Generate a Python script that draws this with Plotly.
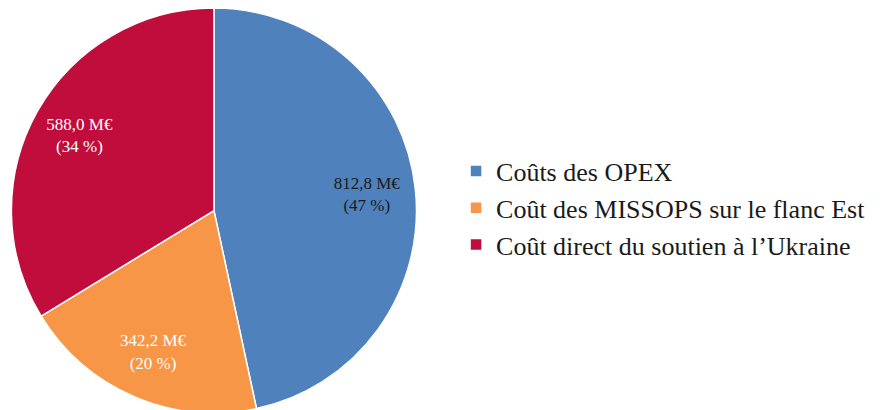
import plotly.graph_objects as go

labels = ["Coûts des OPEX", "Coût des MISSOPS sur le flanc Est", "Coût direct du soutien à l’Ukraine"]
values = [812.8, 342.2, 588.0]
colors = ["#4F81BD", "#F79646", "#C00D3C"]
text_colors = ["#1a1a1a", "white", "white"]

total = sum(values)
texts = [f"{v:.1f}".replace(".", ",") + " M€<br>(" + f"{round(100 * v / total)} %)" for v in values]

serif = "Liberation Serif, DejaVu Serif, serif"
dom = dict(x=[0.003, 0.464], y=[0.012, 1.0])

# filled pie (no text)
fig = go.Figure(go.Pie(
    labels=labels,
    values=values,
    textinfo="none",
    hoverinfo="label+value+percent",
    sort=False,
    direction="clockwise",
    rotation=0,
    marker=dict(colors=colors, line=dict(color="white", width=1.5)),
    domain=dom,
))

# transparent ring on top carrying the labels, so they sit toward the rim
fig.add_trace(go.Pie(
    labels=labels,
    values=values,
    text=texts,
    textinfo="text",
    hoverinfo="skip",
    textposition="inside",
    insidetextorientation="horizontal",
    sort=False,
    direction="clockwise",
    rotation=0,
    hole=0.52,
    showlegend=False,
    marker=dict(colors=["rgba(0,0,0,0)"] * 3, line=dict(width=0)),
    textfont=dict(family=serif, size=17, color=text_colors),
    domain=dom,
))

fig.update_layout(
    width=882, height=410,
    margin=dict(l=0, r=0, t=0, b=0),
    paper_bgcolor="white",
    font=dict(family=serif, color="#1a1a1a"),
    legend=dict(
        x=0.508, y=0.512, xanchor="left", yanchor="middle",
        font=dict(size=26, family=serif),
    ),
)

fig.write_html("out.html")
